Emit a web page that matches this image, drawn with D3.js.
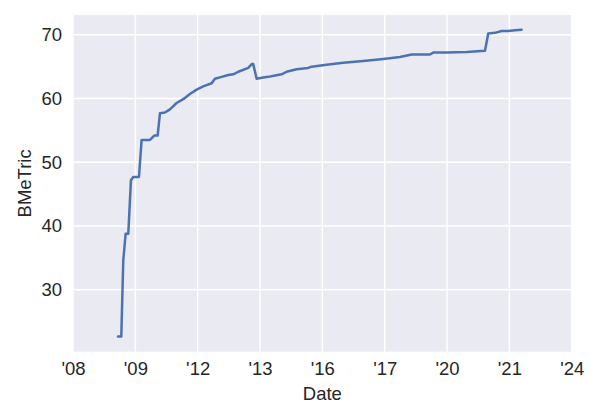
<!DOCTYPE html>
<html>
<head>
<meta charset="utf-8">
<script src="https://cdn.jsdelivr.net/npm/d3@7"></script>
<style>
  html, body { margin: 0; padding: 0; background: #ffffff; }
  svg { display: block; }
  text { font-family: "Liberation Sans", Arial, sans-serif; fill: #262626; }
</style>
</head>
<body>
<svg id="chart" width="600" height="420"></svg>
<script>
// ---- data ----
const dates = [
  "2009-06-11","2009-07-20","2009-08-12","2009-09-09","2009-10-10",
  "2009-11-10","2009-12-07","2010-02-12","2010-03-15","2010-06-21",
  "2010-08-10","2010-09-19","2010-10-16","2010-12-13","2011-02-10",
  "2011-04-29","2011-07-16","2011-10-02","2011-12-20","2012-03-06",
  "2012-06-13","2012-07-21","2012-10-08","2012-12-24","2013-02-21",
  "2013-04-21","2013-08-16","2013-09-25","2013-10-13","2013-11-22",
  "2014-02-07","2014-04-07","2014-06-25","2014-09-11","2014-11-08",
  "2015-03-06","2015-07-19","2015-08-28","2016-02-20","2016-09-02",
  "2017-04-24","2017-12-15","2018-06-28","2018-11-12","2019-06-14",
  "2019-07-23","2019-12-27","2020-08-18","2021-03-21","2021-04-28",
  "2021-07-16","2021-10-02","2021-12-18","2022-03-07","2022-05-24"
];
const values = [
  22.7, 22.7, 34.6, 38.8, 38.8,
  47.2, 47.7, 47.7, 53.5, 53.5,
  54.2, 54.2, 57.7, 57.8, 58.3,
  59.3, 59.9, 60.7, 61.4, 61.9,
  62.4, 63.1, 63.4, 63.7, 63.8,
  64.2, 64.8, 65.4, 65.4, 63.1,
  63.3, 63.4, 63.6, 63.8, 64.2,
  64.6, 64.8, 65.0, 65.3, 65.6,
  65.9, 66.2, 66.5, 66.9, 66.9,
  67.2, 67.2, 67.3, 67.5, 70.2,
  70.3, 70.6, 70.6, 70.7, 70.8
];
const xTickDates = ["2008-01-01","2010-01-01","2012-01-01","2014-01-01","2016-01-01","2018-01-01","2020-01-01","2022-01-01","2024-01-01"];
const xTickLabels = ["'08","'09","'12","'13","'16","'17","'20","'21","'24"];
const yTicks = [30, 40, 50, 60, 70];
const xDomain = ["2008-01-01", "2024-01-01"];
const yDomain = [20.3, 73.1];
const xLabel = "Date";
const yLabel = "BMeTric";

// ---- layout ----
const parse = d3.utcParse("%Y-%m-%d");
const W = 600, H = 420;
const margin = {left: 73, right: W - 571.7, top: 15, bottom: H - 351.7};
const iw = W - margin.left - margin.right;
const ih = H - margin.top - margin.bottom;

const svg = d3.select("#chart");
const g = svg.append("g").attr("transform", `translate(${margin.left},${margin.top})`);

const x = d3.scaleUtc().domain(xDomain.map(parse)).range([0, iw]);
const y = d3.scaleLinear().domain(yDomain).range([ih, 0]);

g.append("rect").attr("width", iw).attr("height", ih).attr("fill", "#EAEAF2");

// grid
const xt = xTickDates.map(parse);
g.append("g").selectAll("line").data(xt).join("line")
  .attr("x1", d => x(d)).attr("x2", d => x(d))
  .attr("y1", 0).attr("y2", ih)
  .attr("stroke", "#ffffff").attr("stroke-width", 1.5);
g.append("g").selectAll("line").data(yTicks).join("line")
  .attr("x1", 0).attr("x2", iw)
  .attr("y1", d => y(d)).attr("y2", d => y(d))
  .attr("stroke", "#ffffff").attr("stroke-width", 1.5);

// axes
const xAxis = d3.axisBottom(x).tickValues(xt)
  .tickFormat((d, i) => xTickLabels[i]).tickSize(0).tickPadding(10);
const gx = g.append("g").attr("transform", `translate(0,${ih})`).call(xAxis);
gx.select(".domain").remove();
gx.selectAll("text").style("font-size", "18.5px").attr("fill", "#262626")
  .style("font-family", "'Liberation Sans', Arial, sans-serif");

const yAxis = d3.axisLeft(y).tickValues(yTicks).tickSize(0).tickPadding(11);
const gy = g.append("g").call(yAxis);
gy.select(".domain").remove();
gy.selectAll("text").style("font-size", "18.5px").attr("fill", "#262626")
  .style("font-family", "'Liberation Sans', Arial, sans-serif");

// line
const data = dates.map((d, i) => ({date: parse(d), value: values[i]}));
g.append("path").datum(data)
  .attr("fill", "none")
  .attr("stroke", "#4C72B0")
  .attr("stroke-width", 2.5)
  .attr("stroke-linejoin", "round")
  .attr("stroke-linecap", "round")
  .attr("d", d3.line().x(d => x(d.date)).y(d => y(d.value)));

// labels
svg.append("text").attr("x", margin.left + iw / 2).attr("y", 400)
  .attr("text-anchor", "middle").style("font-size", "18.5px").text(xLabel);
svg.append("text")
  .attr("transform", `translate(31,${margin.top + ih / 2}) rotate(-90)`)
  .attr("text-anchor", "middle").style("font-size", "18.5px").text(yLabel);
</script>
</body>
</html>
